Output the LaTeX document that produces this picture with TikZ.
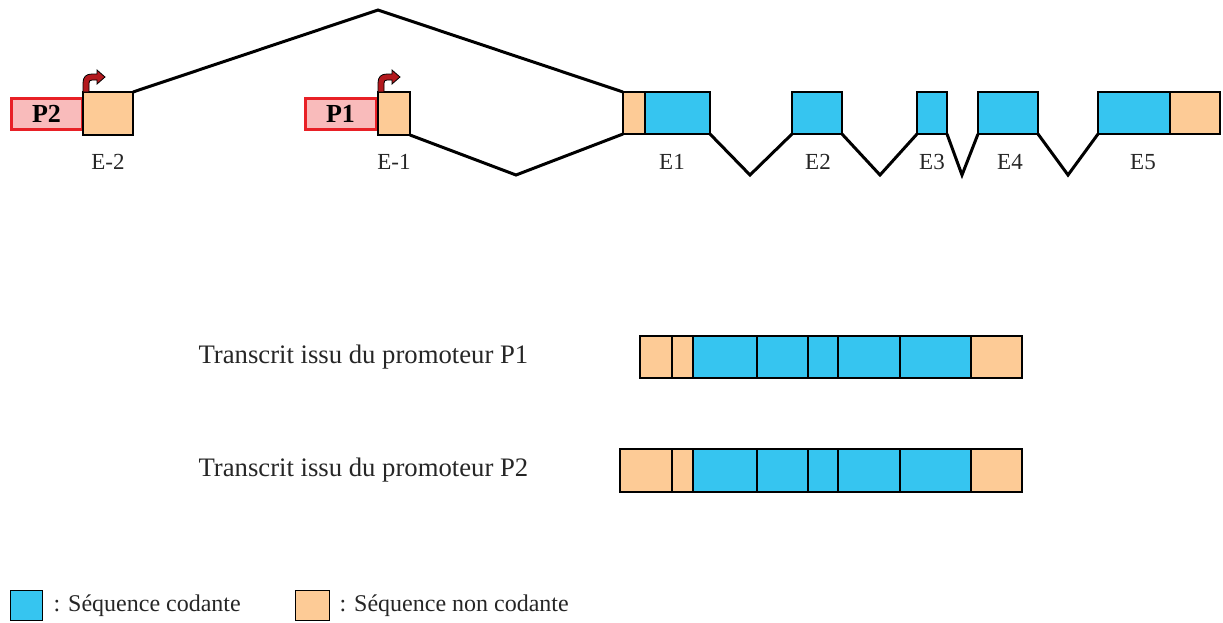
\documentclass[tikz,border=0pt]{standalone}
\usepackage{fontspec}
\setmainfont{Liberation Serif}
\definecolor{cod}{HTML}{36C5F0}
\definecolor{ncod}{HTML}{FDCB96}
\definecolor{promfill}{HTML}{F9BBBB}
\definecolor{promline}{HTML}{E82026}
\definecolor{tssred}{HTML}{B3191E}
\begin{document}
\begin{tikzpicture}[x=1pt,y=-1pt,
  box/.style={draw=black, line width=2pt, inner sep=0pt, outer sep=0pt},
  codbox/.style={box, fill=cod},
  ncodbox/.style={box, fill=ncod},
  prom/.style={draw=promline, fill=promfill, line width=3pt, inner sep=0pt,
    minimum width=71, minimum height=31, font=\fontsize{26}{28}\selectfont\bfseries},
  lbl/.style={font=\fontsize{23}{26}\selectfont, text=black!85},
  txt/.style={font=\fontsize{26.7}{30}\selectfont, text=black!85},
  intron/.style={line width=3pt, black, line join=miter},
  tss/.style={fill=tssred, draw=black, line width=0.8pt}
]
\useasboundingbox (0,0) rectangle (1223,622);

% --- gene: promoters and exons
\node[prom] (p2) at (46.5,113.5) {P2};
\node[ncodbox, minimum width=50, minimum height=43] (em2) at (108,113.5) {};
\node[prom] (p1) at (340.5,113.5) {P1};
\node[ncodbox, minimum width=32, minimum height=43] (em1) at (394,113.5) {};

\node[ncodbox, minimum width=22, minimum height=42] (e1n) at (634,113) {};
\node[codbox, minimum width=65, minimum height=42] (e1c) at (677.5,113) {};
\node[codbox, minimum width=50, minimum height=42] (e2) at (817,113) {};
\node[codbox, minimum width=30, minimum height=42] (e3) at (932,113) {};
\node[codbox, minimum width=60, minimum height=42] (e4) at (1008,113) {};
\node[codbox, minimum width=72, minimum height=42] (e5c) at (1134,113) {};
\node[ncodbox, minimum width=50, minimum height=42] (e5n) at (1195,113) {};

% transcription start sites
\foreach \b in {em2,em1}{
  \begin{scope}[shift={(\b.north west)}]
    \path[tss] (0,0) -- (0,-9) .. controls (0,-15) and (3,-18) .. (9,-18)
      -- (14,-18) -- (14,-22) -- (22,-15) -- (14,-8) -- (14,-12) -- (9,-12)
      .. controls (7,-12) and (6,-11) .. (6,-9) -- (6,0) -- cycle;
  \end{scope}
}

% exon labels
\node[lbl] (lm2) at (108,162) {E-2};
\node[lbl] (lm1) at (394,162) {E-1};
\node[lbl] (l1) at (672,162) {E1};
\node[lbl] (l2) at (818,162) {E2};
\node[lbl] (l3) at (932,162) {E3};
\node[lbl] (l4) at (1010,162) {E4};
\node[lbl] (l5) at (1143,162) {E5};

% splicing lines
\coordinate (top) at (378,10);
\coordinate (low) at (516,175);
\coordinate (v1) at (750,175);
\coordinate (v2) at (880,175);
\coordinate (v3) at (962,175);
\coordinate (v4) at (1068,175);
\draw[intron] (em2.north east) -- (top) -- (e1n.north west);
\draw[intron] (em1.south east) -- (low) -- (e1n.south west);
\draw[intron] (e1c.south east) -- (v1) -- (e2.south west);
\draw[intron] (e2.south east) -- (v2) -- (e3.south west);
\draw[intron] (e3.south east) -- (v3) -- (e4.south west);
\draw[intron] (e4.south east) -- (v4) -- (e5c.south west);

% --- transcripts
\node[txt, anchor=west] (t1) at (195,357) {Transcrit issu du promoteur P1};
\node[txt, anchor=west] (t2) at (195,470) {Transcrit issu du promoteur P2};

\foreach \i/\xa/\xb/\st in {1/640/672/ncodbox,2/672/693/ncodbox,3/693/757/codbox,
    4/757/808/codbox,5/808/838/codbox,6/838/900/codbox,7/900/971/codbox,8/971/1022/ncodbox}{
  \node[\st, anchor=north west, minimum width=\xb-\xa, minimum height=42] (ra\i) at (\xa,336) {};
}
\foreach \i/\xa/\xb/\st in {1/620/672/ncodbox,2/672/693/ncodbox,3/693/757/codbox,
    4/757/808/codbox,5/808/838/codbox,6/838/900/codbox,7/900/971/codbox,8/971/1022/ncodbox}{
  \node[\st, anchor=north west, minimum width=\xb-\xa, minimum height=43] (rb\i) at (\xa,449) {};
}

% --- legend
\node[codbox, line width=1.5pt, minimum width=32, minimum height=30] (kc) at (26.5,605.5) {};
\node[lbl, anchor=west, font=\fontsize{24}{26}\selectfont] (kct) at (50,606) {: Séquence codante};
\node[ncodbox, line width=1.5pt, minimum width=34, minimum height=30] (kn) at (312.5,605.5) {};
\node[lbl, anchor=west, font=\fontsize{24}{26}\selectfont] (knt) at (336,606) {: Séquence non codante};
\end{tikzpicture}
\end{document}
